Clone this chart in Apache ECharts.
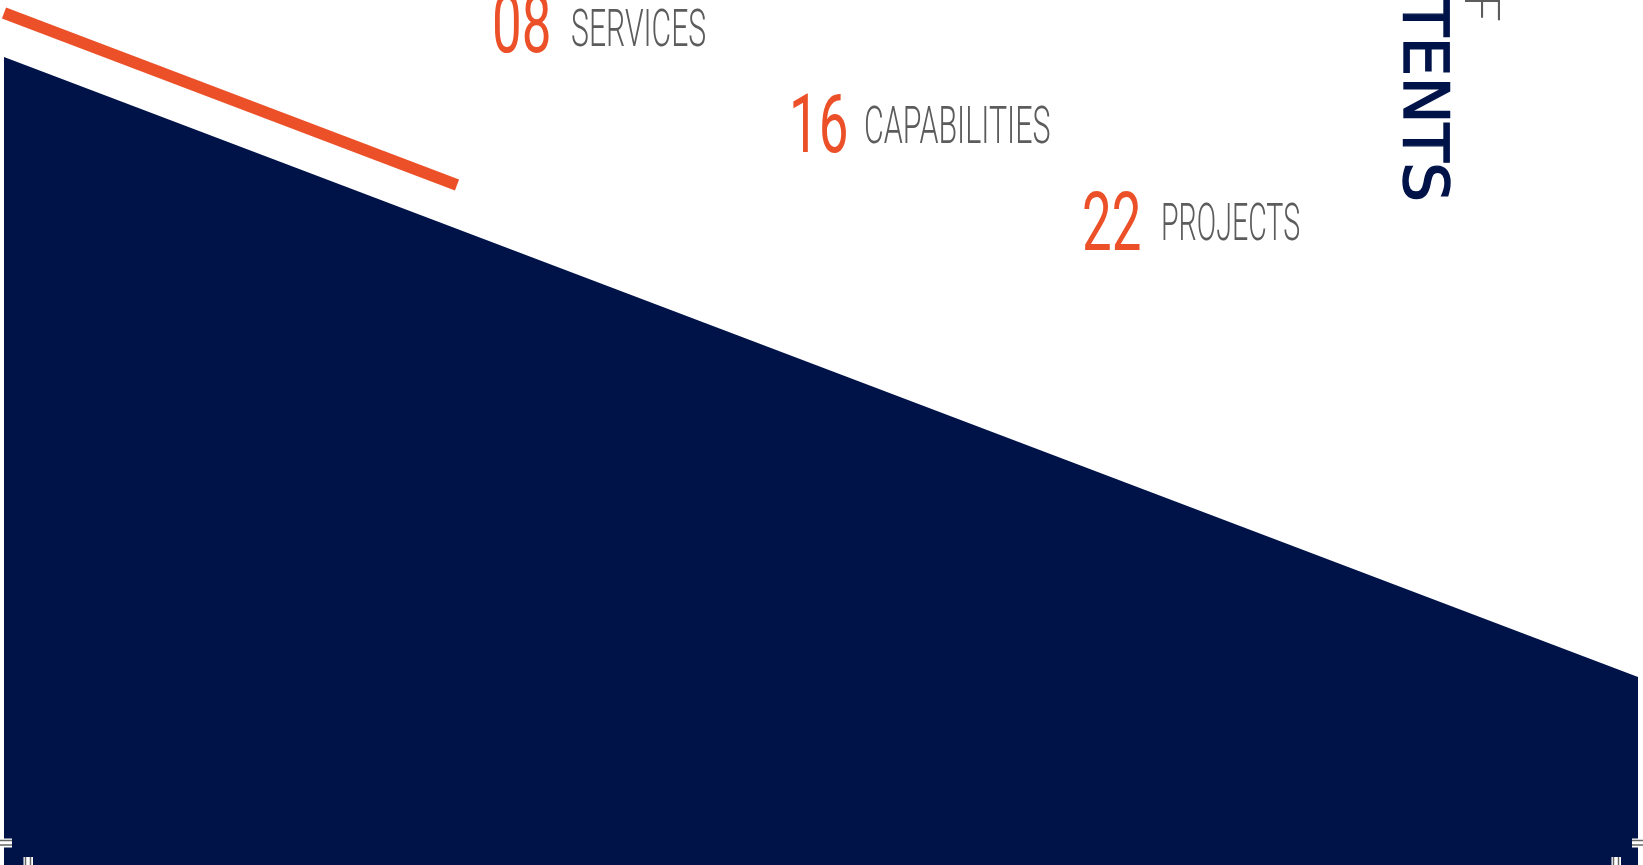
<!DOCTYPE html>
<html>
<head>
<meta charset="utf-8">
<script src="https://cdn.jsdelivr.net/npm/echarts@6/dist/echarts.min.js"></script>
<style>
html,body{margin:0;padding:0;background:#fff;}
#chart{width:1643px;height:865px;}
</style>
</head>
<body>
<div id="chart"></div>
<script>
// ---- data ----
const areaX = [4, 1638];
const areaY = [57, 677];
const accentX = [4, 457];
const accentY = [13, 185];
const counts = ['08', '16', '22'];
const labels = ['SERVICES', 'CAPABILITIES', 'PROJECTS'];
const titleMain = 'CONTENTS';
const titleSub = 'TABLE OF';

// ---- layout (pixel positions / widths of text blocks) ----
const countPos = [[492, 31], [789, 131], [1082, 229]];
const labelPos = [[571, 33], [864, 130], [1161, 227]];
const labelScale = [0.58, 0.585, 0.55];

const NAVY = '#001349';
const ORANGE = '#EC5028';
const GRAY = '#5c5c5c';

const chart = echarts.init(document.getElementById('chart'), null, {renderer: 'canvas'});

const graphics = [];
counts.forEach((c, i) => {
  graphics.push({
    type: 'text', x: countPos[i][0], y: countPos[i][1], scaleX: 0.645, z: 100,
    style: {text: c, fill: ORANGE, font: '400 82px Roboto', textAlign: 'left', textVerticalAlign: 'middle'}
  });
});
labels.forEach((l, i) => {
  graphics.push({
    type: 'text', x: labelPos[i][0], y: labelPos[i][1], scaleX: labelScale[i], z: 100,
    style: {text: l, fill: GRAY, font: '300 52px Roboto', textAlign: 'left', textVerticalAlign: 'middle'}
  });
});
graphics.push({
  type: 'text', x: 1420, y: 202, rotation: -Math.PI / 2, z: 100,
  style: {text: titleMain, fill: NAVY, stroke: NAVY, lineWidth: 1.4, font: '400 63px "DejaVu Sans"', textAlign: 'right', textVerticalAlign: 'middle'}
});
graphics.push({
  type: 'text', x: 1481, y: 22, rotation: -Math.PI / 2, z: 100,
  style: {text: titleSub, fill: GRAY, font: '300 49px Lato', textAlign: 'right', textVerticalAlign: 'middle'}
});
// crop marks
function hMark(x0, x1, y) {
  graphics.push({type: 'rect', z: 100, shape: {x: x0, y: y - 2, width: x1 - x0, height: 9}, style: {fill: '#ffffff'}});
  graphics.push({type: 'line', z: 101, shape: {x1: x0, y1: y, x2: x1, y2: y}, style: {stroke: '#666', lineWidth: 1.5}});
  graphics.push({type: 'line', z: 101, shape: {x1: x0, y1: y + 4.5, x2: x1, y2: y + 4.5}, style: {stroke: '#666', lineWidth: 1.5}});
}
function vMark(x, y0, y1) {
  graphics.push({type: 'rect', z: 100, shape: {x: x - 2, y: y0, width: 9.5, height: y1 - y0}, style: {fill: '#ffffff'}});
  graphics.push({type: 'line', z: 101, shape: {x1: x, y1: y0, x2: x, y2: y1}, style: {stroke: '#666', lineWidth: 1.5}});
  graphics.push({type: 'line', z: 101, shape: {x1: x + 5, y1: y0, x2: x + 5, y2: y1}, style: {stroke: '#666', lineWidth: 1.5}});
}
hMark(0, 12, 840.5);
vMark(25.5, 857, 865);
hMark(1632, 1643, 840.5);
vMark(1613.5, 857, 865);

const option = {
  animation: false,
  backgroundColor: '#ffffff',
  grid: {left: 0, right: 0, top: 0, bottom: 0, containLabel: false},
  xAxis: {type: 'value', min: 0, max: 1643, show: false},
  yAxis: {type: 'value', min: 0, max: 865, inverse: true, show: false},
  series: [
    {
      type: 'line', symbol: 'none', silent: true,
      data: areaX.map((x, i) => [x, areaY[i]]),
      lineStyle: {width: 0, color: NAVY},
      areaStyle: {color: NAVY, opacity: 1, origin: 'end'},
      z: 1
    },
    {
      type: 'line', symbol: 'none', silent: true,
      data: accentX.map((x, i) => [x, accentY[i]]),
      lineStyle: {width: 11.5, color: ORANGE, cap: 'butt'},
      z: 2
    }
  ],
  graphic: graphics
};
chart.setOption(option);
</script>
</body>
</html>
